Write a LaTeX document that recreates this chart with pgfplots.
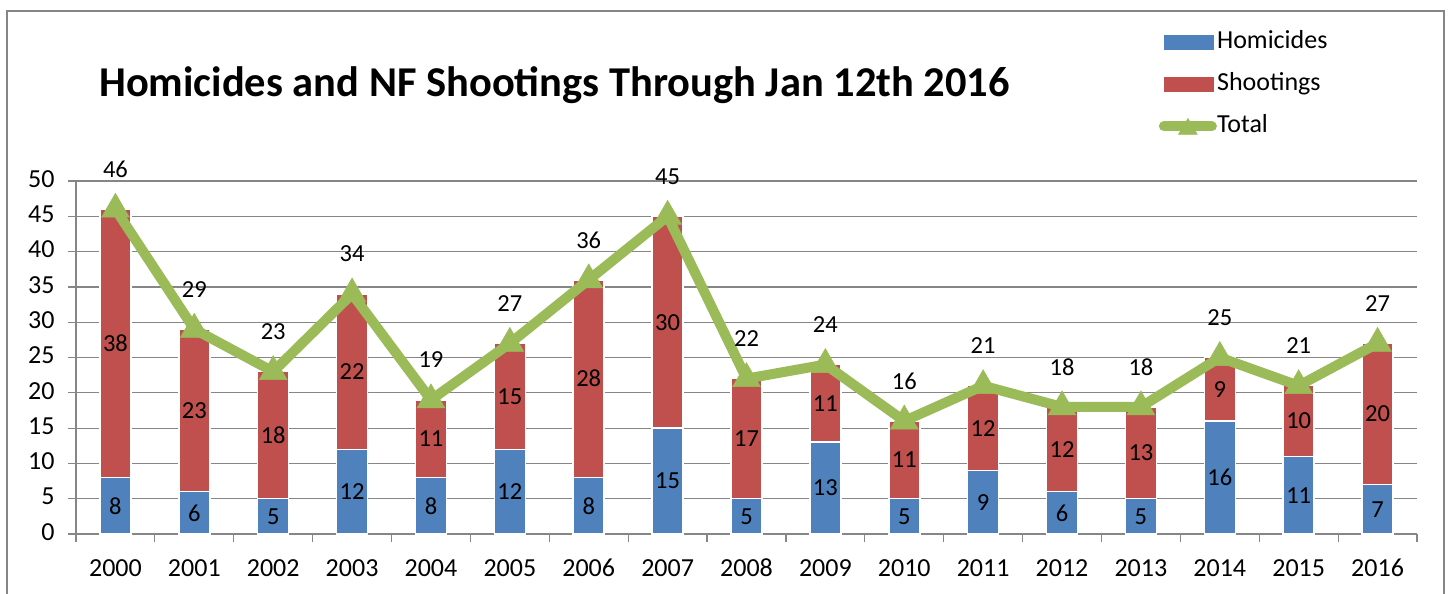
\documentclass[border=0pt]{standalone}
\usepackage{pgfplots}
\pgfplotsset{compat=1.18}
\usepackage{pgfplotstable}
\usepackage{fontspec}
\setmainfont{Carlito}
\definecolor{hblue}{HTML}{4F81BD}
\definecolor{sred}{HTML}{C0504D}
\definecolor{tgreen}{HTML}{9BBB59}
\definecolor{gridgray}{HTML}{868686}
\pgfplotsset{/pgf/number format/assume math mode=true}

\pgfplotstableread{
x h s t
0 8 38 46
1 6 23 29
2 5 18 23
3 12 22 34
4 8 11 19
5 12 15 27
6 8 28 36
7 15 30 45
8 5 17 22
9 13 11 24
10 5 11 16
11 9 12 21
12 6 12 18
13 5 13 18
14 16 9 25
15 11 10 21
16 7 20 27
}\datatable

\begin{document}
\begin{tikzpicture}
\path[use as bounding box] (0bp,0bp) rectangle (1450bp,594bp);
\draw[gridgray, line width=2bp] (7bp,-20bp) rectangle (1444bp,583bp);
\node[anchor=west, inner sep=0pt, font=\fontsize{42.5bp}{50bp}\selectfont\bfseries] at (99bp,509bp) {Homicides and NF Shootings Through Jan 12th 2016};
\begin{axis}[
  at={(76bp,60bp)}, anchor=south west,
  scale only axis, width=1341bp, height=353bp,
  xmin=-0.5, xmax=16.5, ymin=0, ymax=50,
  axis x line*=bottom, axis y line*=left,
  axis line style={gridgray, line width=1.2bp, -},
  ymajorgrids, grid style={gridgray, line width=1.2bp},
  ytick={0,5,...,50},
  xtick={0,...,16},
  xticklabels={2000,2001,2002,2003,2004,2005,2006,2007,2008,2009,2010,2011,2012,2013,2014,2015,2016},
  major x tick style={draw=none},
  minor xtick={-0.5,0.5,...,16.5},
  minor x tick style={gridgray, line width=1.2bp},
  ytick style={gridgray, line width=1.2bp},
  major tick length=8bp, minor tick length=8bp, tick align=outside,
  typeset ticklabels with strut,
  tick label style={font=\fontsize{26bp}{31bp}\selectfont, text=black},
  xticklabel style={yshift=-9bp},
  yticklabel style={xshift=-10bp},
  ybar, bar width=31bp,
  clip=false,
  legend style={at={(0.805,1.433)}, anchor=north west, draw=none, fill=none,
    font=\fontsize{26bp}{31bp}\selectfont, row sep=18bp,
    nodes={inner sep=0pt, text height=18bp, text depth=6bp}},
  legend cell align=left,
]
\addlegendimage{legend image code/.code={\path (0bp,0bp) (58bp,0bp); \fill[hblue] (5bp,-7bp) rectangle (54bp,7bp);}}
\addlegendentry{Homicides}
\addlegendimage{legend image code/.code={\path (0bp,0bp) (58bp,0bp); \fill[sred] (5bp,-7bp) rectangle (54bp,7bp);}}
\addlegendentry{Shootings}
\addlegendimage{legend image code/.code={\draw[tgreen, line width=10bp, line cap=round] (5bp,0bp) -- (53bp,0bp); \fill[tgreen] (29bp,8bp) -- (19.5bp,-8bp) -- (38.5bp,-8bp) -- cycle;}}
\addlegendentry{Total}

\addplot[ybar, bar shift=0pt, fill=sred, draw=white, line width=1.5bp, forget plot] table[x=x,y=t]{\datatable};
\addplot[ybar, bar shift=0pt, fill=hblue, draw=white, line width=1.5bp, forget plot] table[x=x,y=h]{\datatable};
\addplot[sharp plot, tgreen, line width=10bp, line join=round, mark=triangle*, mark size=16bp,
  mark options={solid, line width=0.5bp, line join=miter}, forget plot,
  nodes near coords, point meta=explicit,
  every node near coord/.style={black, anchor=center, yshift=40bp, font=\fontsize{24.5bp}{29bp}\selectfont}]
  table[x=x,y=t,meta=t]{\datatable};
\addplot[sharp plot, draw=none, mark=none, forget plot,
  nodes near coords, point meta=explicit,
  every node near coord/.style={black, anchor=center, font=\fontsize{24.5bp}{29bp}\selectfont}]
  table[x=x, y expr=\thisrow{h}/2, meta=h]{\datatable};
\addplot[sharp plot, draw=none, mark=none, forget plot,
  nodes near coords, point meta=explicit,
  every node near coord/.style={black, anchor=center, font=\fontsize{24.5bp}{29bp}\selectfont}]
  table[x=x, y expr=\thisrow{h}+\thisrow{s}/2, meta=s]{\datatable};
\end{axis}
\end{tikzpicture}
\end{document}
